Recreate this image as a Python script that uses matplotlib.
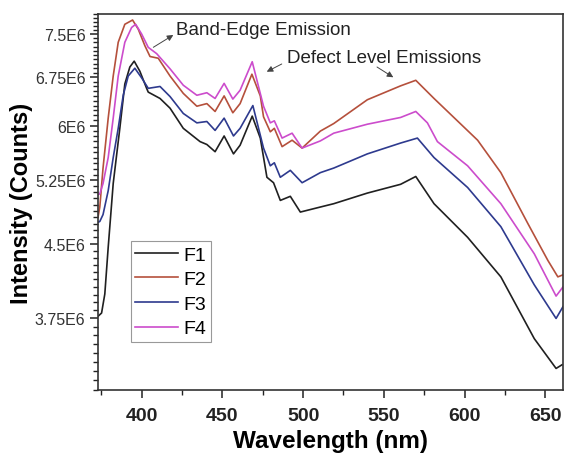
import matplotlib
matplotlib.use("Agg")
import matplotlib.pyplot as plt
from matplotlib.ticker import FixedLocator, FixedFormatter, NullFormatter

plt.rcParams['font.family'] = ['Liberation Sans', 'DejaVu Sans']

# ---- data (wavelength nm, intensity counts) ----
f1_x = [373.0, 375.2, 377.2, 379.3, 382.4, 386.5, 389.6, 392.7, 395.4, 398.9, 403.1, 404.1,
        411.4, 417.6, 425.8, 436.2, 440.4, 445.5, 451.1, 456.9, 461.0, 468.5, 473.5, 477.6,
        481.7, 485.9, 492.1, 498.3, 510.7, 519.0, 539.8, 560.4, 569.8, 581.1, 601.9, 622.5,
        643.2, 656.7, 660.4]
f1_y = [3.77, 3.80, 3.98, 4.46, 5.21, 5.96, 6.64, 6.92, 7.02, 6.85, 6.57, 6.51,
        6.41, 6.26, 5.96, 5.77, 5.73, 5.63, 5.85, 5.60, 5.72, 6.14, 5.82, 5.29,
        5.22, 5.00, 5.05, 4.86, 4.92, 4.96, 5.09, 5.20, 5.30, 4.96, 4.57, 4.15,
        3.57, 3.32, 3.35]

f2_x = [373.0, 374.1, 376.1, 379.3, 382.4, 385.5, 389.6, 394.4, 397.9, 402.0, 405.2, 410.3,
        417.6, 425.8, 434.2, 440.4, 445.5, 451.1, 456.5, 461.0, 468.3, 473.5, 475.5, 479.7,
        482.2, 487.0, 493.2, 499.4, 510.7, 519.0, 539.8, 560.4, 569.8, 581.1, 608.1, 622.5,
        639.1, 651.6, 657.8, 660.9]
f2_y = [4.80, 4.92, 5.41, 6.11, 6.77, 7.35, 7.68, 7.76, 7.59, 7.29, 7.10, 7.07,
        6.77, 6.49, 6.29, 6.33, 6.21, 6.45, 6.19, 6.33, 6.80, 6.45, 6.13, 5.91,
        5.96, 5.70, 5.79, 5.68, 5.92, 6.03, 6.39, 6.61, 6.70, 6.41, 5.79, 5.35,
        4.73, 4.32, 4.15, 4.17]

f3_x = [373.0, 374.1, 376.1, 379.3, 382.4, 385.5, 388.6, 391.7, 395.8, 400.0, 404.1, 411.4,
        417.6, 425.8, 434.2, 440.4, 445.5, 451.1, 456.9, 461.0, 468.9, 475.5, 479.7, 482.2,
        485.9, 492.1, 499.4, 510.7, 519.0, 539.8, 560.4, 570.8, 581.1, 601.9, 622.5, 643.2,
        656.7, 661.0]
f3_y = [4.74, 4.75, 4.83, 5.12, 5.55, 5.96, 6.46, 6.77, 6.90, 6.74, 6.57, 6.60,
        6.44, 6.18, 6.04, 6.06, 5.93, 6.11, 5.85, 5.96, 6.30, 5.68, 5.44, 5.48,
        5.29, 5.38, 5.22, 5.35, 5.41, 5.60, 5.75, 5.82, 5.55, 5.16, 4.69, 4.07,
        3.75, 3.86]

f4_x = [373.0, 374.1, 376.1, 379.3, 382.4, 385.5, 389.6, 393.8, 396.3, 400.0, 404.1, 409.3,
        417.6, 425.8, 434.2, 440.4, 445.5, 451.1, 456.5, 461.0, 468.5, 475.5, 479.7, 482.2,
        487.0, 493.2, 499.4, 510.7, 519.0, 539.8, 560.4, 569.8, 577.0, 583.2, 601.9, 622.5,
        643.2, 656.7, 661.0]
f4_y = [5.07, 5.08, 5.21, 5.55, 6.11, 6.77, 7.35, 7.62, 7.68, 7.50, 7.26, 7.15,
        6.89, 6.62, 6.46, 6.50, 6.41, 6.65, 6.40, 6.54, 7.01, 6.29, 6.04, 6.07,
        5.82, 5.89, 5.68, 5.78, 5.89, 6.02, 6.12, 6.21, 6.04, 5.77, 5.44, 4.96,
        4.39, 3.96, 4.05]

series_names = ["F1", "F2", "F3", "F4"]
series_x = [f1_x, f2_x, f3_x, f4_x]
series_y = [f1_y, f2_y, f3_y, f4_y]
colors = ["#202020", "#b5503c", "#2e3a8e", "#cc4ccc"]

x_ticks = [400, 450, 500, 550, 600, 650]
x_tick_labels = ["400", "450", "500", "550", "600", "650"]
y_ticks = [3.75e6, 4.5e6, 5.25e6, 6.0e6, 6.75e6, 7.5e6]
y_tick_labels = ["3.75E6", "4.5E6", "5.25E6", "6E6", "6.75E6", "7.5E6"]

# ---- figure ----
fig = plt.figure(figsize=(5.65, 4.64), dpi=100)
ax = fig.add_axes([0.1735, 0.1573, 0.823, 0.8104])

for name, xs, ys, c in zip(series_names, series_x, series_y, colors):
    ax.plot(xs, [v * 1e6 for v in ys], color=c, lw=1.2, label=name)

ax.set_yscale('log')
ax.set_xlim(373, 661)
ax.set_ylim(3.15e6, 7.875e6)

ax.xaxis.set_major_locator(FixedLocator(x_ticks))
ax.xaxis.set_major_formatter(FixedFormatter(x_tick_labels))
ax.xaxis.set_minor_locator(FixedLocator([375, 425, 475, 525, 575, 625]))

ax.yaxis.set_major_locator(FixedLocator(y_ticks))
ax.yaxis.set_major_formatter(FixedFormatter(y_tick_labels))
minor_y = [3.15e6 + 0.075e6 * i for i in range(64)]
ax.yaxis.set_minor_locator(FixedLocator(minor_y))
ax.yaxis.set_minor_formatter(NullFormatter())

ax.tick_params(axis='both', which='major', direction='out', length=6, width=1.1, color='#222222')
ax.tick_params(axis='both', which='minor', direction='out', length=3.5, width=1.0, color='#222222')
ax.tick_params(axis='x', which='major', labelsize=14, pad=6)
ax.tick_params(axis='y', which='major', labelsize=11.5, pad=3, labelcolor='#333333')
for lab in ax.get_xticklabels():
    lab.set_fontweight('bold')
    lab.set_color('#222222')

for sp in ax.spines.values():
    sp.set_linewidth(1.2)
    sp.set_color('#333333')

ax.set_xlabel("Wavelength (nm)", fontsize=17.5, fontweight='bold', labelpad=4)
ax.set_ylabel("Intensity (Counts)", fontsize=17, fontweight='bold', labelpad=1.5)

leg = ax.legend(loc='lower left', bbox_to_anchor=(0.07, 0.128), fontsize=14,
                frameon=True, fancybox=False, edgecolor='#999999', framealpha=1,
                handlelength=2.2, handletextpad=0.3, labelspacing=0.36,
                borderpad=0.23, borderaxespad=0)
leg.get_frame().set_linewidth(0.8)

# annotations
arrow_kw = dict(arrowstyle='-|>', color='#444444', lw=0.7, mutation_scale=9,
                shrinkA=0, shrinkB=0)
ax.text(0.1677, 0.9468, "Band-Edge Emission", transform=ax.transAxes, fontsize=13.5,
        va='baseline', ha='left', color='#222222')
ax.annotate("", xy=(0.1619, 0.9441), xytext=(0.1189, 0.9114),
            xycoords='axes fraction', textcoords='axes fraction', arrowprops=arrow_kw)
ax.text(0.4065, 0.8723, "Defect Level Emissions", transform=ax.transAxes, fontsize=13.5,
        va='baseline', ha='left', color='#222222')
ax.annotate("", xy=(0.3628, 0.8465), xytext=(0.3951, 0.867),
            xycoords='axes fraction', textcoords='axes fraction', arrowprops=arrow_kw)
ax.annotate("", xy=(0.635, 0.8316), xytext=(0.600, 0.859),
            xycoords='axes fraction', textcoords='axes fraction', arrowprops=arrow_kw)

fig.savefig("out.png", dpi=100)
